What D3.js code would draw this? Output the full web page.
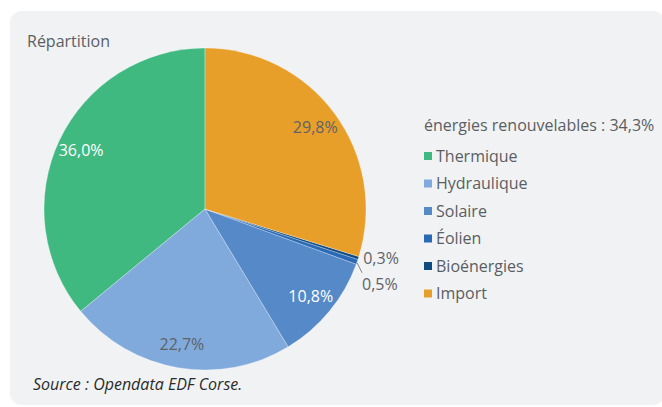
<!DOCTYPE html>
<html>
<head>
<meta charset="utf-8">
<script src="https://cdn.jsdelivr.net/npm/d3@7"></script>
<style>
    html, body { margin: 0; padding: 0; background: #fff; }
    svg { display: block; font-family: "Open Sans", sans-serif; }
</style>
</head>
<body>
<svg width="662" height="407"></svg>
<script>
// Données
const categories = ['Thermique', 'Hydraulique', 'Solaire', 'Éolien', 'Bioénergies', 'Import'];
const values = [36.0, 22.7, 10.8, 0.5, 0.3, 29.8];
const labels = ['36,0%', '22,7%', '10,8%', '0,5%', '0,3%', '29,8%'];
const colors = ['#40b981', '#80aadb', '#5689c8', '#2a69b6', '#0f4a80', '#e89f29'];
const labelColors = ['#fff', '#5f6368', '#fff', '#5f6368', '#5f6368', '#5f6368'];
const renewableTitle = 'énergies renouvelables : 34,3%';

const W = 662, H = 407;
const CX = 205, CY = 209, R = 161;
const LABEL_R = 137;
const FS = 16;
const TEXT = '#5a5e63';

const svg = d3.select('svg');

// Fond
svg.append('rect')
    .attr('x', 10).attr('y', 11)
    .attr('width', 655).attr('height', 394)
    .attr('rx', 12)
    .attr('fill', '#f1f2f4');

svg.append('text')
    .attr('x', 27).attr('y', 47)
    .attr('font-size', FS)
    .attr('fill', TEXT)
    .text('Répartition');

// Camembert, sens anti-horaire depuis midi
const pie = d3.pie().sort(null).value(d => d).startAngle(0).endAngle(-2 * Math.PI);
const arcs = pie(values);
const arc = d3.arc().innerRadius(0).outerRadius(R);
const labelArc = d3.arc().innerRadius(LABEL_R).outerRadius(LABEL_R);

const g = svg.append('g').attr('transform', `translate(${CX},${CY})`);

g.selectAll('path')
    .data(arcs)
    .enter().append('path')
    .attr('d', arc)
    .attr('fill', (d, i) => colors[i])
    .attr('stroke', '#ffffff')
    .attr('stroke-opacity', 0.5)
    .attr('stroke-width', 0.6);

arcs.forEach(function (d, i) {
    if (values[i] < 2) return;
    const c = labelArc.centroid(d);
    g.append('text')
        .attr('x', c[0]).attr('y', c[1])
        .attr('text-anchor', 'middle')
        .attr('dy', '0.35em')
        .attr('font-size', FS)
        .attr('fill', labelColors[i])
        .text(labels[i]);
});

// Petites parts : Bioénergies collée au bord, Éolien avec un trait
const bio = d3.arc().innerRadius(R + 3).outerRadius(R + 3).centroid(arcs[4]);
g.append('text')
    .attr('x', bio[0] + 2).attr('y', bio[1])
    .attr('dy', '0.35em')
    .attr('font-size', FS)
    .attr('fill', labelColors[4])
    .text(labels[4]);

const eo1 = d3.arc().innerRadius(R).outerRadius(R).centroid(arcs[3]);
g.append('line')
    .attr('x1', eo1[0]).attr('y1', eo1[1] + 1)
    .attr('x2', eo1[0] + 5).attr('y2', eo1[1] + 11)
    .attr('stroke', '#6a6a6a')
    .attr('stroke-width', 0.8);
g.append('text')
    .attr('x', eo1[0] + 5).attr('y', eo1[1] + 23)
    .attr('dy', '0.35em')
    .attr('font-size', FS)
    .attr('fill', labelColors[3])
    .text(labels[3]);

// Légende
const LX = 424, LY0 = 156, LSTEP = 27.5;
svg.append('text')
    .attr('x', LX).attr('y', 125)
    .attr('dy', '0.35em')
    .attr('font-size', FS)
    .attr('fill', TEXT)
    .text(renewableTitle);

const legend = svg.append('g');
categories.forEach(function (name, i) {
    const y = LY0 + i * LSTEP;
    legend.append('rect')
        .attr('x', LX).attr('y', y - 4)
        .attr('width', 8).attr('height', 8)
        .attr('fill', colors[i]);
    legend.append('text')
        .attr('x', LX + 12).attr('y', y)
        .attr('dy', '0.35em')
        .attr('font-size', FS)
        .attr('fill', TEXT)
        .text(name);
});

svg.append('text')
    .attr('x', 33).attr('y', 390)
    .attr('font-size', FS)
    .attr('font-style', 'italic')
    .attr('fill', '#2b2b2b')
    .text('Source : Opendata EDF Corse.');
</script>
</body>
</html>
